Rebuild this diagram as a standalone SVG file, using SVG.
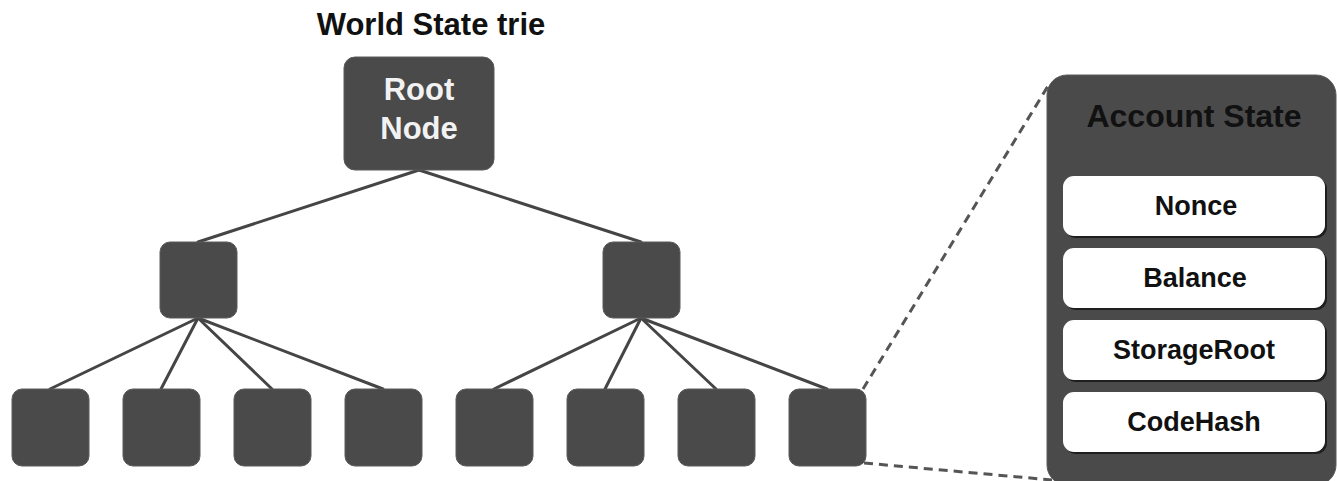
<svg xmlns="http://www.w3.org/2000/svg" width="1337" height="481" viewBox="0 0 1337 481">
  <defs>
    <style>
      .node { fill: #4a4a4a; stroke: #5a5a5a; stroke-width: 1; }
      .edge { stroke: #454545; stroke-width: 3; stroke-linecap: round; fill: none; }
      .dash { stroke: #555555; stroke-width: 3; stroke-dasharray: 9 6; fill: none; }
      .title { font-family: "Liberation Sans", Arial, sans-serif; font-weight: 700; fill: #111111; text-anchor: middle; }
      .light { font-family: "Liberation Sans", Arial, sans-serif; font-weight: 700; fill: #f2f2f2; text-anchor: middle; }
      .field { fill: #ffffff; }
      .fieldShadow { fill: #1e1e1e; }
      .fieldText { font-family: "Liberation Sans", Arial, sans-serif; font-weight: 700; fill: #111111; text-anchor: middle; font-size: 27px; }
    </style>
  </defs>

  <rect width="1337" height="481" fill="#ffffff"/>

  <text class="title" x="431" y="35" font-size="31">World State trie</text>

  <!-- connectors -->
  <g id="connectors">
    <line class="edge" x1="419" y1="170" x2="198" y2="242"/>
    <line class="edge" x1="419" y1="170" x2="641" y2="242"/>
    <line class="edge" x1="198" y1="318" x2="50" y2="389"/>
    <line class="edge" x1="198" y1="318" x2="161" y2="389"/>
    <line class="edge" x1="198" y1="318" x2="272" y2="389"/>
    <line class="edge" x1="198" y1="318" x2="383" y2="389"/>
    <line class="edge" x1="641" y1="318" x2="494" y2="389"/>
    <line class="edge" x1="641" y1="318" x2="605" y2="389"/>
    <line class="edge" x1="641" y1="318" x2="716" y2="389"/>
    <line class="edge" x1="641" y1="318" x2="827" y2="389"/>
    <line class="dash" x1="863" y1="389" x2="1048" y2="86"/>
    <line class="dash" x1="864" y1="463" x2="1052" y2="480"/>
  </g>

  <!-- root -->
  <g id="root">
    <rect class="node" x="344" y="57" width="150" height="113" rx="11"/>
    <text class="light" x="419" y="100" font-size="31">Root</text>
    <text class="light" x="419" y="139" font-size="31">Node</text>
  </g>

  <!-- branch nodes -->
  <g id="branch-left"><rect class="node" x="160" y="242" width="77" height="76" rx="10"/></g>
  <g id="branch-right"><rect class="node" x="603" y="242" width="77" height="76" rx="10"/></g>

  <!-- leaf nodes -->
  <g id="leaf-1"><rect class="node" x="12" y="389" width="77" height="77" rx="10"/></g>
  <g id="leaf-2"><rect class="node" x="123" y="389" width="77" height="77" rx="10"/></g>
  <g id="leaf-3"><rect class="node" x="234" y="389" width="77" height="77" rx="10"/></g>
  <g id="leaf-4"><rect class="node" x="345" y="389" width="77" height="77" rx="10"/></g>
  <g id="leaf-5"><rect class="node" x="456" y="389" width="77" height="77" rx="10"/></g>
  <g id="leaf-6"><rect class="node" x="567" y="389" width="77" height="77" rx="10"/></g>
  <g id="leaf-7"><rect class="node" x="678" y="389" width="77" height="77" rx="10"/></g>
  <g id="leaf-8"><rect class="node" x="789" y="389" width="77" height="77" rx="10"/></g>

  <!-- account state panel -->
  <g id="account-state">
    <rect class="node" x="1047" y="75" width="289" height="410" rx="20"/>
    <text class="title" x="1194" y="127" font-size="32">Account State</text>
  </g>

  <g id="field-nonce">
    <rect class="fieldShadow" x="1065" y="178" width="262" height="60" rx="11"/>
    <rect class="field" x="1063" y="176" width="262" height="60" rx="11"/>
    <text class="fieldText" x="1196" y="215">Nonce</text>
  </g>
  <g id="field-balance">
    <rect class="fieldShadow" x="1065" y="250" width="262" height="60" rx="11"/>
    <rect class="field" x="1063" y="248" width="262" height="60" rx="11"/>
    <text class="fieldText" x="1195" y="287">Balance</text>
  </g>
  <g id="field-storageroot">
    <rect class="fieldShadow" x="1065" y="322" width="262" height="60" rx="11"/>
    <rect class="field" x="1063" y="320" width="262" height="60" rx="11"/>
    <text class="fieldText" x="1194" y="359">StorageRoot</text>
  </g>
  <g id="field-codehash">
    <rect class="fieldShadow" x="1065" y="394" width="262" height="60" rx="11"/>
    <rect class="field" x="1063" y="392" width="262" height="60" rx="11"/>
    <text class="fieldText" x="1194" y="431">CodeHash</text>
  </g>
</svg>
